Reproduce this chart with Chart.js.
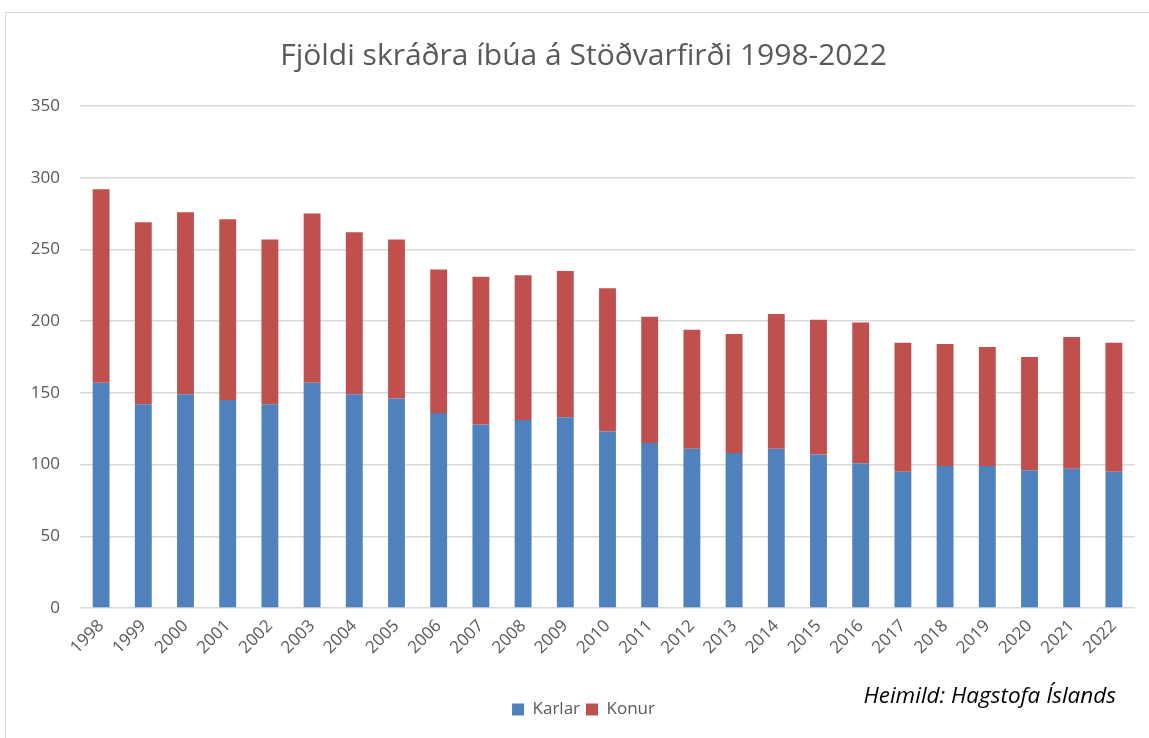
<!DOCTYPE html>
<html>
<head>
<meta charset="utf-8">
<script src="https://cdn.jsdelivr.net/npm/chart.js@4"></script>
<style>
  html, body { margin: 0; padding: 0; background: #fff; }
  #wrap { width: 1149px; height: 738px; position: relative; }
</style>
</head>
<body>
<div id="wrap"><canvas id="chart" width="1149" height="738"></canvas></div>
<script>
// data
const years = ['1998','1999','2000','2001','2002','2003','2004','2005','2006','2007','2008','2009','2010',
               '2011','2012','2013','2014','2015','2016','2017','2018','2019','2020','2021','2022'];
const karlar = [157,142,149,145,142,157,149,146,136,128,131,133,123,115,111,108,111,107,101,95,99,99,96,97,95];
const konur  = [135,127,127,126,115,118,113,111,100,103,101,102,100,88,83,83,94,94,98,90,85,83,79,92,90];
const yTicks = [0, 50, 100, 150, 200, 250, 300, 350];

const titleText = 'Fjöldi skráðra íbúa á Stöðvarfirði 1998-2022';
const sourceText = 'Heimild: Hagstofa Íslands';

const textColor = '#595959';
const gridColor = '#d9d9d9';
const fontFamily = '"Open Sans", "Noto Sans", sans-serif';

// frame + source note
const frame = {
    id: 'frame',
    beforeDraw(chart) {
        const ctx = chart.ctx;
        ctx.save();
        ctx.fillStyle = '#fff';
        ctx.fillRect(0, 0, chart.width, chart.height);
        ctx.strokeStyle = '#d9d9d9';
        ctx.lineWidth = 1;
        ctx.strokeRect(5.5, 12.5, chart.width + 10, chart.height + 10);
        ctx.restore();
    },
    afterDraw(chart) {
        const ctx = chart.ctx;
        ctx.save();
        ctx.fillStyle = '#000';
        ctx.font = 'italic 22.5px ' + fontFamily;
        ctx.textAlign = 'right';
        ctx.textBaseline = 'middle';
        ctx.fillText(sourceText, 1116, 697);
        ctx.restore();
    }
};

const ctx = document.getElementById('chart');
new Chart(ctx, {
    type: 'bar',
    data: {
        labels: years,
        datasets: [
            {
                label: 'Karlar',
                data: karlar,
                backgroundColor: '#4f81bd',
                barPercentage: 0.8,
                categoryPercentage: 0.5
            },
            {
                label: 'Konur',
                data: konur,
                backgroundColor: '#c0504d',
                barPercentage: 0.8,
                categoryPercentage: 0.5
            }
        ]
    },
    options: {
        responsive: false,
        animation: false,
        layout: { padding: { left: 18, right: 0, top: 0, bottom: 10 } },
        plugins: {
            title: {
                display: true,
                text: titleText,
                color: textColor,
                font: { family: fontFamily, size: 30, weight: 'normal' },
                padding: { top: 38, bottom: 32 }
            },
            legend: {
                position: 'bottom',
                labels: {
                    color: textColor,
                    boxWidth: 12,
                    boxHeight: 12,
                    padding: 6,
                    font: { family: fontFamily, size: 17 }
                }
            },
            tooltip: { enabled: false }
        },
        scales: {
            x: {
                stacked: true,
                afterFit(scale) { scale.height = 87; },
                grid: { display: false, drawTicks: false },
                border: { display: false },
                ticks: {
                    color: textColor,
                    font: { family: fontFamily, size: 17 },
                    minRotation: 45,
                    maxRotation: 45,
                    padding: 8
                }
            },
            y: {
                stacked: true,
                min: 0,
                max: 350,
                afterBuildTicks(scale) {
                    scale.ticks = yTicks.map(v => ({ value: v }));
                },
                afterFit(scale) { scale.width = 62; },
                grid: { color: gridColor, lineWidth: 1.5, drawTicks: false },
                border: { display: false },
                ticks: {
                    color: textColor,
                    font: { family: fontFamily, size: 17 },
                    padding: 20
                }
            },
            // empty right-hand spacer
            yRight: {
                position: 'right',
                min: 0,
                max: 350,
                afterFit(scale) { scale.width = 14; },
                grid: { display: false, drawTicks: false },
                border: { display: false },
                ticks: { display: false }
            }
        }
    },
    plugins: [frame]
});
</script>
</body>
</html>
